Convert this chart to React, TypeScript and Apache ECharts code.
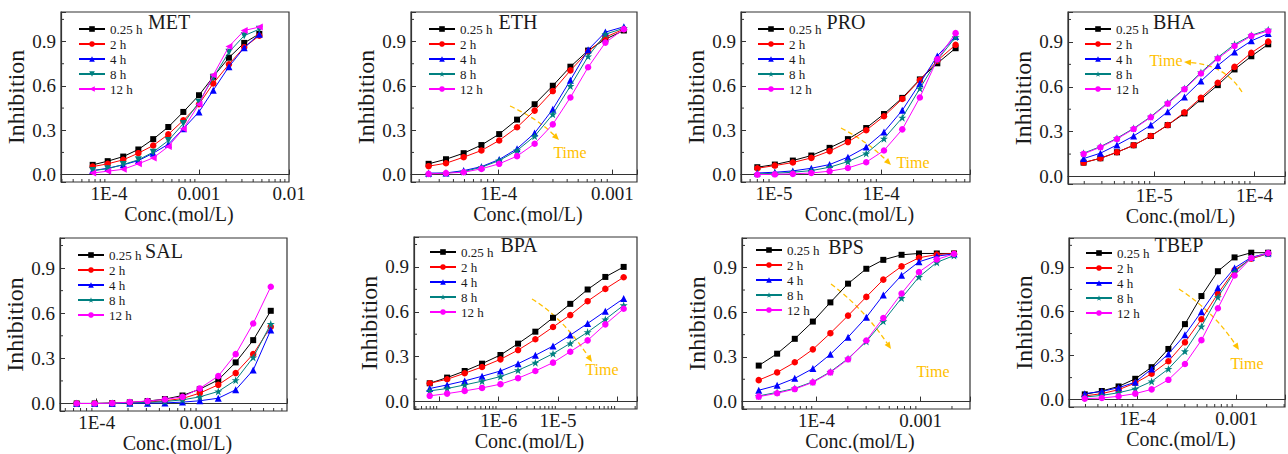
import React, { useEffect, useRef } from 'react';
import * as echarts from 'echarts';

// ---------- data ----------
const timeLabels = ['0.25 h', '2 h', '4 h', '8 h', '12 h'];
const seriesColors = ['#000000', '#ff0000', '#0000ff', '#008080', '#ff00ff'];
const yTickValues = [0, 0.3, 0.6, 0.9];
const yMinorTicks = [0.15, 0.45, 0.75, 1.05];

// MET
const metConc = [6.59e-5, 9.68e-5, 1.44e-4, 2.12e-4, 3.1e-4, 4.56e-4, 6.7e-4, 1.0e-3, 1.44e-3, 2.15e-3, 3.18e-3, 4.68e-3];
const met025 = [0.066, 0.091, 0.122, 0.17, 0.24, 0.322, 0.424, 0.537, 0.662, 0.791, 0.891, 0.952];
const met2 = [0.054, 0.073, 0.1, 0.145, 0.197, 0.272, 0.367, 0.476, 0.617, 0.746, 0.862, 0.939];
const met4 = [0.027, 0.043, 0.066, 0.095, 0.145, 0.205, 0.31, 0.424, 0.571, 0.73, 0.859, 0.95];
const met8 = [0.027, 0.04, 0.068, 0.1, 0.152, 0.23, 0.345, 0.49, 0.655, 0.828, 0.94, 0.984];
const met12 = [0.011, 0.023, 0.036, 0.073, 0.113, 0.19, 0.31, 0.476, 0.673, 0.866, 0.975, 0.998];
const metTicks = ['1E-4', '0.001', '0.01'];

// ETH
const ethConc = [2.42e-5, 3.44e-5, 4.92e-5, 7.05e-5, 1.01e-4, 1.45e-4, 2.07e-4, 2.99e-4, 4.27e-4, 6.11e-4, 8.67e-4, 1.26e-3];
const eth025 = [0.073, 0.104, 0.145, 0.2, 0.274, 0.372, 0.476, 0.601, 0.73, 0.839, 0.916, 0.975];
const eth2 = [0.057, 0.077, 0.118, 0.163, 0.231, 0.32, 0.433, 0.565, 0.705, 0.832, 0.93, 0.984];
const eth4 = [0.01, 0.011, 0.027, 0.054, 0.102, 0.175, 0.281, 0.442, 0.639, 0.844, 0.964, 1.0];
const eth8 = [0.005, 0.01, 0.02, 0.05, 0.095, 0.163, 0.26, 0.408, 0.599, 0.8, 0.95, 0.99];
const eth12 = [0.005, 0.01, 0.016, 0.039, 0.073, 0.125, 0.209, 0.34, 0.522, 0.726, 0.893, 0.984];
const ethTicks = ['1E-4', '0.001'];

// PRO
const proConc = [7.0e-6, 1.02e-5, 1.5e-5, 2.23e-5, 3.3e-5, 4.89e-5, 7.24e-5, 1.06e-4, 1.57e-4, 2.29e-4, 3.33e-4, 4.93e-4];
const pro025 = [0.05, 0.068, 0.095, 0.129, 0.181, 0.24, 0.315, 0.41, 0.519, 0.644, 0.753, 0.855];
const pro2 = [0.043, 0.061, 0.082, 0.113, 0.159, 0.22, 0.3, 0.395, 0.512, 0.639, 0.771, 0.878];
const pro4 = [0.011, 0.016, 0.025, 0.043, 0.068, 0.118, 0.186, 0.288, 0.435, 0.617, 0.803, 0.934];
const pro8 = [0.005, 0.009, 0.016, 0.027, 0.05, 0.088, 0.143, 0.243, 0.385, 0.583, 0.776, 0.93];
const pro12 = [0.0, 0.002, 0.005, 0.011, 0.023, 0.045, 0.084, 0.163, 0.306, 0.522, 0.78, 0.957];
const proTicks = ['1E-5', '1E-4'];

// BHA
const bhaConc = [1.97e-6, 2.9e-6, 4.24e-6, 6.22e-6, 9.23e-6, 1.36e-5, 2.0e-5, 2.92e-5, 4.3e-5, 6.32e-5, 9.29e-5, 1.37e-4];
const bha025 = [0.093, 0.122, 0.162, 0.209, 0.271, 0.344, 0.422, 0.516, 0.611, 0.716, 0.804, 0.884];
const bha2 = [0.093, 0.122, 0.162, 0.209, 0.271, 0.344, 0.429, 0.527, 0.627, 0.733, 0.827, 0.902];
const bha4 = [0.12, 0.156, 0.211, 0.271, 0.344, 0.433, 0.531, 0.638, 0.742, 0.833, 0.907, 0.956];
const bha8 = [0.156, 0.2, 0.256, 0.322, 0.4, 0.493, 0.589, 0.696, 0.796, 0.884, 0.944, 0.982];
const bha12 = [0.151, 0.196, 0.251, 0.318, 0.396, 0.487, 0.584, 0.689, 0.789, 0.873, 0.94, 0.973];
const bhaTicks = ['1E-5', '1E-4'];

// SAL
const salConc = [6.43e-5, 9.57e-5, 1.41e-4, 2.08e-4, 3.08e-4, 4.52e-4, 6.67e-4, 9.77e-4, 1.47e-3, 2.16e-3, 3.18e-3, 4.69e-3];
const sal025 = [0, 0, 0.002, 0.007, 0.016, 0.029, 0.053, 0.095, 0.157, 0.273, 0.421, 0.616];
const sal2 = [0, 0, 0.002, 0.004, 0.009, 0.018, 0.033, 0.069, 0.124, 0.202, 0.328, 0.51];
const sal4 = [0, 0, 0, 0.002, 0.002, 0.004, 0.009, 0.018, 0.035, 0.091, 0.222, 0.488];
const sal8 = [0, 0, 0.002, 0.004, 0.007, 0.013, 0.024, 0.044, 0.08, 0.155, 0.306, 0.528];
const sal12 = [0, 0, 0.002, 0.009, 0.016, 0.027, 0.044, 0.1, 0.182, 0.328, 0.532, 0.776];
const salTicks = ['1E-4', '0.001'];

// BPA
const bpaConc = [6.87e-8, 1.35e-7, 2.67e-7, 5.24e-7, 1.07e-6, 2.12e-6, 4.15e-6, 8.24e-6, 1.61e-5, 3.16e-5, 6.28e-5, 1.28e-4];
const bpa025 = [0.122, 0.16, 0.204, 0.253, 0.311, 0.387, 0.467, 0.56, 0.653, 0.749, 0.833, 0.9];
const bpa2 = [0.122, 0.149, 0.189, 0.231, 0.282, 0.344, 0.416, 0.498, 0.578, 0.671, 0.753, 0.831];
const bpa4 = [0.087, 0.111, 0.138, 0.169, 0.204, 0.253, 0.309, 0.371, 0.444, 0.522, 0.604, 0.689];
const bpa8 = [0.071, 0.087, 0.111, 0.136, 0.167, 0.209, 0.26, 0.32, 0.389, 0.464, 0.549, 0.644];
const bpa12 = [0.038, 0.053, 0.071, 0.091, 0.116, 0.156, 0.204, 0.26, 0.333, 0.409, 0.516, 0.62];
const bpaTicks = ['1E-6', '1E-5'];

// BPS
const bpsConc = [2.79e-5, 4.19e-5, 6.19e-5, 9.23e-5, 1.36e-4, 2.01e-4, 3.01e-4, 4.38e-4, 6.56e-4, 9.64e-4, 1.43e-3, 2.09e-3];
const bps025 = [0.242, 0.322, 0.422, 0.538, 0.667, 0.793, 0.893, 0.953, 0.987, 0.996, 0.996, 0.996];
const bps2 = [0.144, 0.196, 0.264, 0.351, 0.46, 0.578, 0.704, 0.82, 0.909, 0.967, 0.989, 0.996];
const bps4 = [0.076, 0.109, 0.156, 0.222, 0.318, 0.433, 0.567, 0.716, 0.849, 0.94, 0.978, 0.993];
const bps8 = [0.038, 0.062, 0.089, 0.133, 0.2, 0.289, 0.404, 0.54, 0.696, 0.838, 0.936, 0.982];
const bps12 = [0.033, 0.056, 0.084, 0.129, 0.196, 0.284, 0.411, 0.562, 0.727, 0.871, 0.956, 0.993];
const bpsTicks = ['1E-4', '0.001'];

// TBEP
const tbepConc = [2.95e-5, 4.38e-5, 6.46e-5, 9.51e-5, 1.39e-4, 2.05e-4, 3.01e-4, 4.41e-4, 6.46e-4, 9.51e-4, 1.4e-3, 2.07e-3];
const tbep025 = [0.036, 0.059, 0.09, 0.142, 0.221, 0.345, 0.514, 0.705, 0.874, 0.968, 1.0, 1.0];
const tbep2 = [0.025, 0.041, 0.068, 0.113, 0.176, 0.261, 0.39, 0.547, 0.721, 0.881, 0.959, 0.993];
const tbep4 = [0.041, 0.056, 0.081, 0.119, 0.209, 0.311, 0.441, 0.599, 0.761, 0.896, 0.968, 0.998];
const tbep8 = [0.018, 0.029, 0.047, 0.074, 0.124, 0.209, 0.329, 0.498, 0.698, 0.869, 0.964, 0.993];
const tbep12 = [0.007, 0.011, 0.023, 0.041, 0.07, 0.135, 0.243, 0.405, 0.622, 0.845, 0.964, 0.998];
const tbepTicks = ['1E-4', '0.001'];

// ---------- layout / style ----------
const FONT = "'Liberation Serif', 'Times New Roman', serif";
const AXIS_COLOR = '#333333';
const TEXT_COLOR = '#1a1a1a';
const ORANGE = '#FFC000';
const Y_MIN = -0.05;
const Y_MAX = 1.1;
const STAR = 'path://M5,0 L6.18,3.45 L9.76,3.45 L6.9,5.57 L7.94,9.05 L5,6.9 L2.06,9.05 L3.1,5.57 L0.24,3.45 L3.82,3.45 Z';

type Panel = {
  name: string;
  conc: number[];
  values: number[][];
  ticks: string[];
  grid: { left: number; top: number; width: number; height: number };
  xMin: number;
  xMax: number;
  legend: { left: number; top: number };
  title: { x: number; y: number };
  metStyle?: boolean;
  arrow?: { s: number[]; c: number[]; e: number[]; t: number[] };
};

const panels: Panel[] = [
  { name: 'MET', conc: metConc, values: [met025, met2, met4, met8, met12], ticks: metTicks,
    grid: { left: 61, top: 12, width: 228, height: 170 }, xMin: -4.533, xMax: -2,
    legend: { left: 78, top: 22.5 }, title: { x: 169, y: 22 }, metStyle: true },
  { name: 'ETH', conc: ethConc, values: [eth025, eth2, eth4, eth8, eth12], ticks: ethTicks,
    grid: { left: 411, top: 12, width: 226, height: 170 }, xMin: -4.771, xMax: -2.784,
    legend: { left: 428, top: 22.5 }, title: { x: 518, y: 22 },
    arrow: { s: [510, 106], c: [538, 119], e: [559, 140], t: [570, 152] } },
  { name: 'PRO', conc: proConc, values: [pro025, pro2, pro4, pro8, pro12], ticks: proTicks,
    grid: { left: 741, top: 12, width: 229, height: 170 }, xMin: -5.307, xMax: -3.173,
    legend: { left: 757, top: 22.5 }, title: { x: 846, y: 22 },
    arrow: { s: [841, 128], c: [868, 142], e: [891, 165], t: [913, 162] } },
  { name: 'BHA', conc: bhaConc, values: [bha025, bha2, bha4, bha8, bha12], ticks: bhaTicks,
    grid: { left: 1068, top: 12, width: 228, height: 172 }, xMin: -5.861, xMax: -3.696,
    legend: { left: 1084, top: 22.5 }, title: { x: 1174, y: 22 },
    arrow: { s: [1242, 92], c: [1225, 65], e: [1184, 62], t: [1166, 60] } },
  { name: 'SAL', conc: salConc, values: [sal025, sal2, sal4, sal8, sal12], ticks: salTicks,
    grid: { left: 60, top: 238, width: 227, height: 173 }, xMin: -4.352, xMax: -2.173,
    legend: { left: 77, top: 248.5 }, title: { x: 164, y: 251 } },
  { name: 'BPA', conc: bpaConc, values: [bpa025, bpa2, bpa4, bpa8, bpa12], ticks: bpaTicks,
    grid: { left: 414, top: 237, width: 223, height: 172 }, xMin: -7.428, xMax: -3.668,
    legend: { left: 429, top: 245.5 }, title: { x: 519, y: 245 },
    arrow: { s: [532, 299], c: [562, 317], e: [592, 362], t: [602, 369] } },
  { name: 'BPS', conc: bpsConc, values: [bps025, bps2, bps4, bps8, bps12], ticks: bpsTicks,
    grid: { left: 742, top: 238, width: 228, height: 171 }, xMin: -4.715, xMax: -2.526,
    legend: { left: 755, top: 243.5 }, title: { x: 846, y: 247 },
    arrow: { s: [831, 284], c: [864, 309], e: [891, 349], t: [933, 371] } },
  { name: 'TBEP', conc: tbepConc, values: [tbep025, tbep2, tbep4, tbep8, tbep12], ticks: tbepTicks,
    grid: { left: 1069, top: 238, width: 228, height: 169 }, xMin: -4.689, xMax: -2.514,
    legend: { left: 1085, top: 246.5 }, title: { x: 1179, y: 245 },
    arrow: { s: [1179, 289], c: [1214, 312], e: [1239, 350], t: [1247, 363] } },
];

function symbolFor(idx: number, met: boolean) {
  const base: any[] = [
    { symbol: 'rect', size: 6, rotate: 0 },
    { symbol: 'circle', size: 6.5, rotate: 0 },
    { symbol: 'triangle', size: 7, rotate: 0 },
    { symbol: STAR, size: 8, rotate: 0 },
    { symbol: 'circle', size: 6.5, rotate: 0 },
  ];
  if (met) {
    base[3] = { symbol: 'triangle', size: 7, rotate: 180 };
    base[4] = { symbol: 'triangle', size: 7, rotate: 90 };
  }
  return base[idx];
}

function tickText(v: number, ticks: string[]) {
  const n = Math.round(v);
  if (Math.abs(v - n) > 1e-6) return '';
  const s = n >= -3 ? Math.pow(10, n).toFixed(-n) : '1E' + n;
  return ticks.includes(s) ? s : '';
}

function arrowGraphics(a: { s: number[]; c: number[]; e: number[]; t: number[] }) {
  const [x1, y1] = a.s;
  const [cx, cy] = a.c;
  const [x2, y2] = a.e;
  const ang = Math.atan2(y2 - cy, x2 - cx);
  const L = 7;
  const W = 3;
  const bx = x2 - L * Math.cos(ang);
  const by = y2 - L * Math.sin(ang);
  const px = -Math.sin(ang) * W;
  const py = Math.cos(ang) * W;
  return [
    { type: 'bezierCurve', silent: true,
      shape: { x1, y1, x2: bx, y2: by, cpx1: cx, cpy1: cy },
      style: { stroke: ORANGE, lineWidth: 1.3, lineDash: [5, 3], fill: 'none' } },
    { type: 'polygon', silent: true,
      shape: { points: [[x2, y2], [bx + px, by + py], [bx - px, by - py]] },
      style: { fill: ORANGE } },
    { type: 'text', silent: true, x: a.t[0], y: a.t[1],
      style: { text: 'Time', fontSize: 16, fontFamily: FONT, fill: ORANGE, align: 'center', verticalAlign: 'middle' } },
  ];
}

function buildOption() {
  const grid: any[] = [];
  const xAxis: any[] = [];
  const yAxis: any[] = [];
  const series: any[] = [];
  const legend: any[] = [];
  const graphic: any[] = [];

  panels.forEach((p, i) => {
    grid.push({ ...p.grid, show: true, borderColor: AXIS_COLOR, borderWidth: 1.2, backgroundColor: 'transparent' });
    xAxis.push({
      type: 'value', gridIndex: i, min: p.xMin, max: p.xMax,
      minInterval: 1, maxInterval: 1, splitNumber: Math.max(1, Math.round(p.xMax - p.xMin)),
      name: 'Conc.(mol/L)', nameLocation: 'middle', nameGap: 21,
      nameTextStyle: { fontFamily: FONT, fontSize: 20, color: TEXT_COLOR, padding: [0, 0, 0, 8] },
      axisLine: { show: true, lineStyle: { color: AXIS_COLOR, width: 1.2 } },
      axisTick: { show: true, inside: true, length: 5, lineStyle: { color: AXIS_COLOR, width: 1 } },
      axisLabel: { margin: 2, fontFamily: FONT, fontSize: 19, color: TEXT_COLOR,
        formatter: (v: number) => tickText(v, p.ticks) },
      splitLine: { show: false },
    });
    yAxis.push({
      type: 'value', gridIndex: i, min: Y_MIN, max: Y_MAX,
      minInterval: 0.3, maxInterval: 0.3, splitNumber: 4,
      name: 'Inhibition', nameLocation: 'middle', nameGap: 30, nameRotate: 90,
      nameTextStyle: { fontFamily: FONT, fontSize: 24, color: TEXT_COLOR },
      axisLine: { show: true, lineStyle: { color: AXIS_COLOR, width: 1.2 } },
      axisTick: { show: true, inside: true, length: 5, lineStyle: { color: AXIS_COLOR, width: 1 } },
      axisLabel: { margin: 5, fontFamily: FONT, fontSize: 19, color: TEXT_COLOR,
        formatter: (v: number) => {
          const hit = yTickValues.find((t) => Math.abs(t - v) < 1e-6);
          return hit === undefined ? '' : hit.toFixed(1);
        } },
      splitLine: { show: false },
    });

    const names: string[] = [];
    p.values.forEach((vals, k) => {
      const sym = symbolFor(k, !!p.metStyle);
      const nm = p.name + '|' + timeLabels[k];
      names.push(nm);
      series.push({
        type: 'line', name: nm, xAxisIndex: i, yAxisIndex: i,
        data: vals.map((v, j) => [Math.log10(p.conc[j]), v]),
        symbol: sym.symbol, symbolSize: sym.size, symbolRotate: sym.rotate,
        showAllSymbol: true,
        lineStyle: { color: seriesColors[k], width: 1 },
        itemStyle: { color: seriesColors[k] },
        z: 3 + k,
      });
    });

    // minor ticks drawn through the axes' own scales
    const minor: number[][] = [];
    for (let n = Math.floor(p.xMin); n <= Math.ceil(p.xMax); n++) {
      for (let k = 2; k <= 9; k++) {
        const v = n + Math.log10(k);
        if (v > p.xMin && v < p.xMax) minor.push([v, Y_MIN, 0]);
      }
    }
    yMinorTicks.forEach((v) => minor.push([p.xMin, v, 1]));
    series.push({
      type: 'custom', xAxisIndex: i, yAxisIndex: i, silent: true, z: 2,
      data: minor,
      renderItem: (_params: any, api: any) => {
        const pt = api.coord([api.value(0), api.value(1)]);
        const kind = api.value(2);
        const shape = kind === 0
          ? { x1: pt[0], y1: pt[1], x2: pt[0], y2: pt[1] - 3 }
          : { x1: pt[0], y1: pt[1], x2: pt[0] + 3, y2: pt[1] };
        return { type: 'line', shape, style: { stroke: AXIS_COLOR, lineWidth: 1 } };
      },
    });

    legend.push({
      orient: 'vertical', left: p.legend.left, top: p.legend.top, padding: 0,
      itemWidth: 26, itemHeight: 7, itemGap: 2, data: names,
      formatter: (n: string) => n.split('|')[1],
      textStyle: { fontFamily: FONT, fontSize: 13, lineHeight: 13, color: TEXT_COLOR },
      selectedMode: false,
    });

    graphic.push({ type: 'text', silent: true, x: p.title.x, y: p.title.y,
      style: { text: p.name, fontFamily: FONT, fontSize: 20, fill: TEXT_COLOR, align: 'center', verticalAlign: 'middle' } });
    if (p.arrow) graphic.push(...arrowGraphics(p.arrow));
  });

  return {
    animation: false,
    backgroundColor: '#ffffff',
    textStyle: { fontFamily: FONT },
    grid, xAxis, yAxis, series, legend, graphic,
  };
}

export default function App() {
  const ref = useRef<HTMLDivElement>(null);
  useEffect(() => {
    if (!ref.current) return;
    const chart = echarts.init(ref.current, undefined, { renderer: 'svg' });
    chart.setOption(buildOption() as any);
    return () => chart.dispose();
  }, []);
  return (
    <div ref={ref} style={{ position: 'fixed', left: 0, top: 0, width: 1288, height: 454, background: '#fff' }} />
  );
}
